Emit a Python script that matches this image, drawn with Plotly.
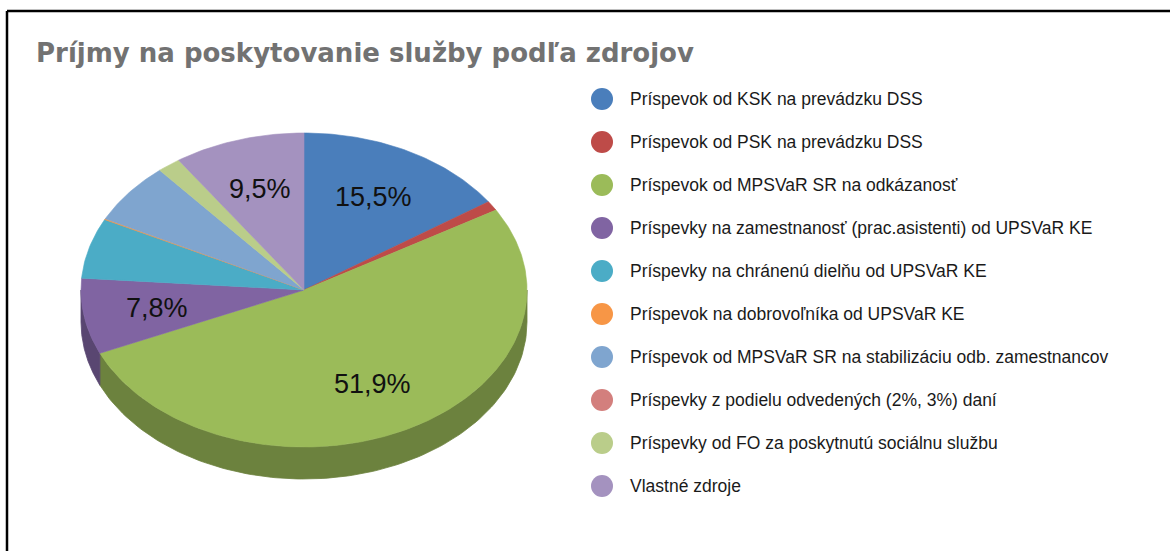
import numpy as np
import plotly.graph_objects as go

TITLE = "Príjmy na poskytovanie služby podľa zdrojov"

categories = [
    "Príspevok od KSK na prevádzku DSS",
    "Príspevok od PSK na prevádzku DSS",
    "Príspevok od MPSVaR SR na odkázanosť",
    "Príspevky na zamestnanosť (prac.asistenti) od UPSVaR KE",
    "Príspevky na chránenú dielňu od UPSVaR KE",
    "Príspevok na dobrovoľníka od UPSVaR KE",
    "Príspevok od MPSVaR SR na stabilizáciu odb. zamestnancov",
    "Príspevky z podielu odvedených (2%, 3%) daní",
    "Príspevky od FO za poskytnutú sociálnu službu",
    "Vlastné zdroje",
]
values = [15.5, 1.0, 51.9, 7.8, 6.2, 0.1, 6.3, 0.0, 1.7, 9.5]
colors = ["#4a7ebb", "#be4b48", "#9bbb59", "#8064a2", "#4bacc6",
          "#f79646", "#7fa5cf", "#d37f7d", "#bacd8a", "#a492bf"]

# ---- layout constants (pixel space) ----
W, H = 1170, 551
CX, CY, RX, RY, DEPTH = 304, 290, 223, 157, 32
LABEL_R = 0.67
LABEL_MIN = 7.0
LEG_MARKER_X, LEG_TEXT_X = 602, 628
LEG_FIRST_Y, LEG_STEP = 99, 43


def darker(hexc, f=0.7):
    h = hexc.lstrip("#")
    r, g, b = (int(h[i:i + 2], 16) for i in (0, 2, 4))
    return "rgb(%d,%d,%d)" % (r * f, g * f, b * f)


def ell(t, dy=0.0, r=1.0):
    return CX + r * RX * np.sin(t), CY - r * RY * np.cos(t) + dy


vals = np.array(values, dtype=float)
fr = vals / vals.sum()
ends = np.cumsum(fr) * 2 * np.pi
starts = ends - fr * 2 * np.pi

fig = go.Figure()

# side walls (front half only)
for i, v in enumerate(values):
    if v <= 0:
        continue
    a, b = max(starts[i], np.pi / 2), min(ends[i], 3 * np.pi / 2)
    if b <= a:
        continue
    t = np.linspace(a, b, 120)
    xt, yt = ell(t)
    xb, yb = ell(t[::-1], DEPTH)
    sc = darker(colors[i])
    fig.add_trace(go.Scatter(
        x=np.concatenate([xt, xb, xt[:1]]).tolist(),
        y=np.concatenate([yt, yb, yt[:1]]).tolist(),
        mode="lines", fill="toself", fillcolor=sc, line=dict(color=sc, width=0.8),
        hoverinfo="skip", showlegend=False))

# top faces
for i, v in enumerate(values):
    if v <= 0:
        continue
    t = np.linspace(starts[i], ends[i], max(4, int(400 * fr[i])))
    xs, ys = ell(t)
    fig.add_trace(go.Scatter(
        x=np.concatenate([[CX], xs, [CX]]).tolist(),
        y=np.concatenate([[CY], ys, [CY]]).tolist(),
        mode="lines", fill="toself", fillcolor=colors[i],
        line=dict(color=colors[i], width=0.6),
        hoverinfo="skip", showlegend=False))

annotations = []
for i, v in enumerate(values):
    if v < LABEL_MIN:
        continue
    m = (starts[i] + ends[i]) / 2
    lx, ly = ell(m, r=LABEL_R)
    annotations.append(dict(
        x=float(lx), y=float(ly), xref="x", yref="y", showarrow=False,
        text=("%.1f" % v).replace(".", ",") + "%",
        font=dict(family="Liberation Sans, Arial, sans-serif", size=27, color="#111111")))

# legend via categorical axis
n = len(categories)
top_px = LEG_FIRST_Y - LEG_STEP / 2
bot_px = LEG_FIRST_Y + LEG_STEP * (n - 1) + LEG_STEP / 2
fig.add_trace(go.Scatter(
    x=[LEG_MARKER_X] * n, y=categories, xaxis="x2", yaxis="y2",
    mode="markers", marker=dict(size=22, color=colors, line=dict(width=0)),
    hoverinfo="skip", showlegend=False))
for i, c in enumerate(categories):
    annotations.append(dict(
        x=LEG_TEXT_X, y=i, xref="x2", yref="y2", xanchor="left", showarrow=False,
        text=c, font=dict(family="Liberation Sans, Arial, sans-serif", size=17.5, color="#1a1a1a")))

annotations.append(dict(
    x=34, y=53, xref="x", yref="y", xanchor="left", yanchor="middle", showarrow=False,
    text="<b>" + TITLE + "</b>",
    font=dict(family="DejaVu Sans, sans-serif", size=26, color="#727272")))

shapes = [
    dict(type="line", xref="x", yref="y", x0=7, x1=W, y0=11, y1=11,
         line=dict(color="black", width=2.5)),
    dict(type="line", xref="x", yref="y", x0=7, x1=7, y0=11, y1=H,
         line=dict(color="black", width=2.5)),
]

ax_hidden = dict(showgrid=False, zeroline=False, showticklabels=False, visible=False)
fig.update_layout(
    width=W, height=H, margin=dict(l=0, r=0, t=0, b=0),
    paper_bgcolor="white", plot_bgcolor="rgba(0,0,0,0)",
    xaxis=dict(range=[0, W], domain=[0, 1], fixedrange=True, **ax_hidden),
    yaxis=dict(range=[H, 0], domain=[0, 1], fixedrange=True, **ax_hidden),
    xaxis2=dict(range=[0, W], domain=[0, 1], anchor="y2", fixedrange=True, **ax_hidden),
    yaxis2=dict(type="category", range=[n - 0.5, -0.5], fixedrange=True,
                domain=[1 - bot_px / H, 1 - top_px / H], anchor="x2", **ax_hidden),
    annotations=annotations, shapes=shapes, showlegend=False,
)

fig.write_html("out.html", config={"displayModeBar": False},
               post_script="document.body.style.margin='0';")
